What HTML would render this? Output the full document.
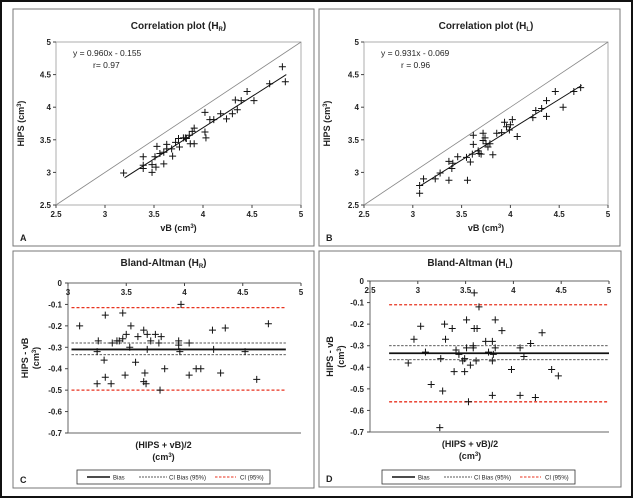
<!DOCTYPE html>
<html><head><meta charset="utf-8"><style>
html,body{margin:0;padding:0;background:#fff}
#wrap{position:relative;width:633px;height:498px;overflow:hidden;background:#fff}
svg{position:absolute;left:0;top:0}
text{font-family:"Liberation Sans",sans-serif}
</style></head><body>
<div id="wrap">
<svg id="svg" width="633" height="498" viewBox="0 0 633 498"></svg>
</div>
<script>
// ---- data ----
const aX=[3.19,3.39,3.39,3.39,3.48,3.48,3.52,3.51,3.53,3.56,3.60,3.60,3.63,3.63,3.68,3.69,3.72,3.75,3.76,3.80,3.82,3.83,3.86,3.87,3.89,3.91,3.91,4.02,4.02,4.03,4.07,4.11,4.18,4.24,4.30,4.33,4.35,4.39,4.45,4.52,4.68,4.81,4.84];
const aY=[2.99,3.24,3.11,3.06,3.12,3.00,3.08,3.24,3.40,3.29,3.31,3.13,3.36,3.43,3.36,3.25,3.46,3.52,3.39,3.53,3.53,3.52,3.57,3.44,3.63,3.44,3.68,3.92,3.62,3.53,3.81,3.81,3.90,3.82,3.90,4.11,3.96,4.10,4.24,4.10,4.36,4.62,4.39];
const aFit=[0.960,-0.155,3.2,4.85];
const bX=[3.07,3.07,3.11,3.23,3.28,3.37,3.37,3.40,3.41,3.46,3.55,3.56,3.59,3.61,3.62,3.62,3.67,3.68,3.70,3.72,3.72,3.74,3.75,3.77,3.79,3.82,3.86,3.91,3.94,3.96,3.99,4.00,4.02,4.07,4.23,4.26,4.32,4.37,4.37,4.46,4.54,4.65,4.72];
const bY=[2.68,2.80,2.90,2.90,2.99,2.88,3.17,3.06,3.14,3.24,3.23,2.88,3.16,3.28,3.43,3.57,3.33,3.29,3.28,3.60,3.49,3.53,3.44,3.39,3.44,3.27,3.60,3.61,3.77,3.70,3.65,3.73,3.81,3.55,3.84,3.95,3.98,4.10,3.86,4.24,4.00,4.24,4.30];
const bFit=[0.931,-0.069,3.08,4.73];
const cX=[3.10,3.25,3.25,3.26,3.31,3.32,3.32,3.37,3.38,3.42,3.44,3.47,3.47,3.49,3.50,3.53,3.54,3.58,3.60,3.65,3.65,3.66,3.67,3.68,3.68,3.71,3.75,3.78,3.79,3.80,3.83,3.95,3.95,3.96,3.97,4.04,4.04,4.10,4.14,4.24,4.25,4.31,4.35,4.52,4.62,4.72];
const cY=[-0.20,-0.32,-0.47,-0.27,-0.36,-0.15,-0.44,-0.47,-0.28,-0.27,-0.27,-0.26,-0.14,-0.43,-0.24,-0.30,-0.20,-0.37,-0.25,-0.22,-0.46,-0.42,-0.47,-0.31,-0.24,-0.27,-0.24,-0.28,-0.50,-0.25,-0.40,-0.27,-0.29,-0.32,-0.10,-0.28,-0.43,-0.40,-0.40,-0.22,-0.31,-0.42,-0.21,-0.32,-0.45,-0.19];
const cLines=[-0.31,-0.28,-0.335,-0.115,-0.50];
const dX=[2.90,2.96,3.03,3.08,3.14,3.23,3.24,3.26,3.28,3.29,3.36,3.38,3.40,3.43,3.47,3.49,3.49,3.51,3.51,3.53,3.55,3.59,3.58,3.58,3.59,3.61,3.62,3.64,3.71,3.74,3.78,3.78,3.78,3.79,3.81,3.81,3.88,3.98,4.07,4.07,4.11,4.18,4.23,4.30,4.40,4.47];
const dY=[-0.38,-0.27,-0.21,-0.33,-0.48,-0.68,-0.36,-0.51,-0.20,-0.27,-0.22,-0.42,-0.32,-0.34,-0.37,-0.36,-0.42,-0.31,-0.18,-0.56,-0.39,-0.055,-0.30,-0.31,-0.22,-0.37,-0.22,-0.12,-0.28,-0.33,-0.28,-0.37,-0.53,-0.34,-0.18,-0.31,-0.23,-0.41,-0.31,-0.53,-0.35,-0.29,-0.54,-0.24,-0.41,-0.44];
const dLines=[-0.335,-0.30,-0.365,-0.11,-0.56];
const corrTicks=["2.5","3","3.5","4","4.5","5"];
const baYTicks=["0","-0.1","-0.2","-0.3","-0.4","-0.5","-0.6","-0.7"];

const svg=document.getElementById('svg');
const NS='http://www.w3.org/2000/svg';
function mk(tag,attrs,parent,name){const e=document.createElementNS(NS,tag);for(const k in attrs)e.setAttribute(k,attrs[k]);


(parent||svg).appendChild(e);return e;}
function txt(x,y,s,size,parent,name,opt){opt=opt||{};const t=mk('text',{x:x,y:y,'font-size':size,'font-weight':opt.w||'bold','text-anchor':opt.a||'middle',fill:'#222'},parent,name);if(opt.rot)t.setAttribute('transform','rotate(-90 '+x+' '+y+')');t.innerHTML=s;return t;}
function lin(x0,x1,p0,p1){return v=>p0+(v-x0)/(x1-x0)*(p1-p0);}
function plus(x,y,g,name){mk('path',{d:`M${x-3.5},${y}h7M${x},${y-3.5}v7`,stroke:'#111','stroke-width':1},g,name);}

mk('rect',{x:1,y:1,width:631,height:496,fill:'none',stroke:'#111','stroke-width':2},svg,'image-frame');

function corr(px,pr,sub,xs,ys,fit,eq,r,letter,name){
  const g=mk('g',{},svg,name);
  mk('rect',{x:pr[0],y:pr[1],width:pr[2],height:pr[3],fill:'#fff',stroke:'#777','stroke-width':1},g,'panel-border');
  const sx=lin(2.5,5,px[0],px[1]), sy=lin(2.5,5,px[3],px[2]);
  mk('rect',{x:px[0],y:px[2],width:px[1]-px[0],height:px[3]-px[2],fill:'none',stroke:'#999','stroke-width':0.8},g,'plot-area');
  mk('line',{x1:px[0],y1:px[3],x2:px[1],y2:px[2],stroke:'#888','stroke-width':0.8},g,'identity-line');
  corrTicks.forEach((t,i)=>{const v=2.5+i*0.5;
    mk('line',{x1:sx(v),y1:px[3],x2:sx(v),y2:px[3]+3,stroke:'#444'},g,'x-tick');
    txt(sx(v),px[3]+12,t,8,g,'x-tick-label');
    mk('line',{x1:px[0]-3,y1:sy(v),x2:px[0],y2:sy(v),stroke:'#444'},g,'y-tick');
    txt(px[0]-5,sy(v)+3,t,8,g,'y-tick-label',{a:'end'});});
  mk('line',{x1:sx(fit[2]),y1:sy(fit[0]*fit[2]+fit[1]),x2:sx(fit[3]),y2:sy(fit[0]*fit[3]+fit[1]),stroke:'#111','stroke-width':1},g,'fit-line');
  xs.forEach((x,i)=>plus(sx(x),sy(ys[i]),g,'data-point'));
  txt((px[0]+px[1])/2,pr[1]+20,'Correlation plot (H<tspan font-size="6" dy="2">'+sub+'</tspan><tspan dy="-2">)</tspan>',10,g,'chart-title');
  txt(px[0]+17,px[2]+14,eq,8.5,g,'regression-equation',{a:'start',w:'normal'});
  txt(px[0]+37,px[2]+26,r,8.5,g,'correlation-coefficient',{a:'start',w:'normal'});
  txt((px[0]+px[1])/2,px[3]+26,'vB (cm<tspan font-size="6" dy="-3">3</tspan><tspan dy="3">)</tspan>',9,g,'x-axis-title');
  txt(pr[0]+11,(px[2]+px[3])/2,'HIPS (cm<tspan font-size="6" dy="-3">3</tspan><tspan dy="3">)</tspan>',9,g,'y-axis-title',{rot:1});
  txt(pr[0]+7,pr[1]+pr[3]-5,letter,9,g,'panel-label',{a:'start'});
}
corr([56,301,42,205],[13,9,301,237],'R',aX,aY,aFit,'y = 0.960x - 0.155','r= 0.97','A','panel-a');
corr([364,608,42,205],[319,9,301,237],'L',bX,bY,bFit,'y = 0.931x - 0.069','r = 0.96','B','panel-b');

function ba(px,x0,pr,sub,xs,ys,L,lx,lineX,letter,leg,name){
  const g=mk('g',{},svg,name);
  mk('rect',{x:pr[0],y:pr[1],width:pr[2],height:pr[3],fill:'#fff',stroke:'#777','stroke-width':1},g,'panel-border');
  const sx=lin(x0,5,px[0],px[1]), sy=lin(0,-0.7,px[2],px[3]);
  mk('line',{x1:px[0],y1:px[2],x2:px[0],y2:px[3],stroke:'#666'},g,'y-axis-line');
  mk('line',{x1:px[0],y1:px[3],x2:px[1],y2:px[3],stroke:'#666'},g,'bottom-axis-line');
  mk('line',{x1:px[0],y1:px[2],x2:px[1],y2:px[2],stroke:'#666'},g,'x-axis-line');
  baYTicks.forEach((t,i)=>{const v=-i*0.1;
    mk('line',{x1:px[0]-3,y1:sy(v),x2:px[0],y2:sy(v),stroke:'#444'},g,'y-tick');
    txt(px[0]-6,sy(v)+3,t,8,g,'y-tick-label',{a:'end'});});
  corrTicks.forEach((t,i)=>{const v=2.5+i*0.5; if(v<x0)return;
    mk('line',{x1:sx(v),y1:px[2],x2:sx(v),y2:px[2]+3,stroke:'#444'},g,'x-tick');
    txt(sx(v),px[2]+12,t,8,g,'x-tick-label');});
  const X1=sx(lineX[0]),X2=sx(lineX[1]);
  mk('line',{x1:X1,y1:sy(L[3]),x2:X2,y2:sy(L[3]),stroke:'#e8321e','stroke-width':1.3,'stroke-dasharray':'3,2'},g,'ci-upper-line');
  mk('line',{x1:X1,y1:sy(L[4]),x2:X2,y2:sy(L[4]),stroke:'#e8321e','stroke-width':1.3,'stroke-dasharray':'3,2'},g,'ci-lower-line');
  mk('line',{x1:X1,y1:sy(L[1]),x2:X2,y2:sy(L[1]),stroke:'#222','stroke-width':0.8,'stroke-dasharray':'2.5,1.5'},g,'ci-bias-upper-line');
  mk('line',{x1:X1,y1:sy(L[2]),x2:X2,y2:sy(L[2]),stroke:'#222','stroke-width':0.8,'stroke-dasharray':'2.5,1.5'},g,'ci-bias-lower-line');
  mk('line',{x1:X1,y1:sy(L[0]),x2:X2,y2:sy(L[0]),stroke:'#111','stroke-width':1.8},g,'bias-line');
  xs.forEach((x,i)=>plus(sx(x),sy(ys[i]),g,'data-point'));
  const cx=pr[0]+pr[2]/2;
  txt(cx,pr[1]+15,'Bland-Altman (H<tspan font-size="6" dy="2">'+sub+'</tspan><tspan dy="-2">)</tspan>',10,g,'chart-title');
  txt(cx,px[3]+15,'(HIPS + vB)/2',9,g,'x-axis-title');
  txt(cx,px[3]+27,'(cm<tspan font-size="6" dy="-3">3</tspan><tspan dy="3">)</tspan>',9,g,'x-axis-title-unit');
  txt(pr[0]+lx,(px[2]+px[3])/2,'HIPS - vB',9,g,'y-axis-title',{rot:1});
  txt(pr[0]+lx+11,(px[2]+px[3])/2,'(cm<tspan font-size="6" dy="-3">3</tspan><tspan dy="3">)</tspan>',9,g,'y-axis-title-unit',{rot:1});
  const lg=mk('g',{},g,'legend');
  mk('rect',{x:leg,y:470,width:193,height:14,fill:'#fff',stroke:'#333','stroke-width':0.8},lg,'legend-box');
  mk('line',{x1:leg+10,y1:477,x2:leg+33,y2:477,stroke:'#111','stroke-width':1.5},lg,'legend-bias-swatch');
  txt(leg+36,479.5,'Bias',6,lg,'legend-bias-label',{a:'start',w:'normal'});
  mk('line',{x1:leg+62,y1:477,x2:leg+90,y2:477,stroke:'#222','stroke-width':0.8,'stroke-dasharray':'2,1'},lg,'legend-ci-bias-swatch');
  txt(leg+92,479.5,'CI Bias (95%)',6,lg,'legend-ci-bias-label',{a:'start',w:'normal'});
  mk('line',{x1:leg+138,y1:477,x2:leg+159,y2:477,stroke:'#e8321e','stroke-width':1,'stroke-dasharray':'2.5,1.5'},lg,'legend-ci-swatch');
  txt(leg+163,479.5,'CI (95%)',6,lg,'legend-ci-label',{a:'start',w:'normal'});
  txt(pr[0]+7,pr[1]+pr[3]-5,letter,9,g,'panel-label',{a:'start'});
}
ba([68,301,283,433],3,[13,251,301,237],'R',cX,cY,cLines,15,[3.03,4.87],'C',77,'panel-c');
ba([370,609,281,432],2.5,[319,251,302,236],'L',dX,dY,dLines,14,[2.7,5.0],'D',382,'panel-d');
</script>
</body></html>
